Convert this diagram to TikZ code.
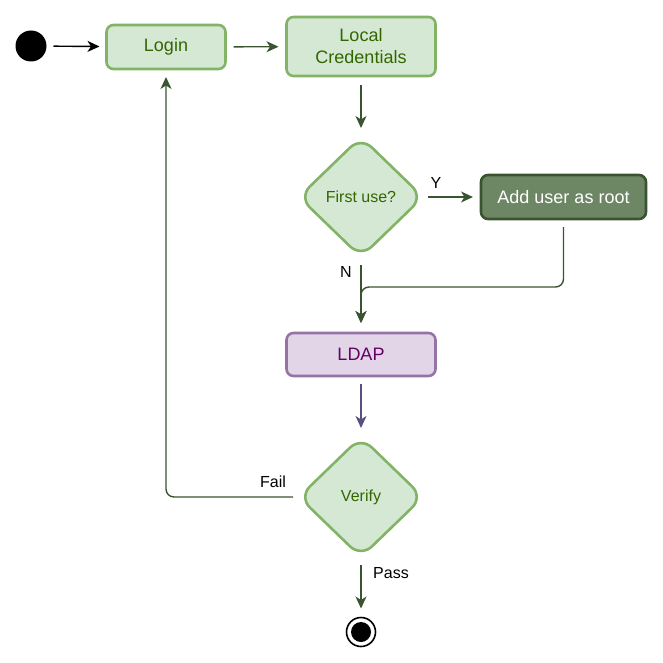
\documentclass[tikz,border=0pt]{standalone}
\usepackage{fontspec}
\setmainfont{Liberation Sans}
\usetikzlibrary{shapes.geometric,arrows.meta}
\definecolor{gfill}{HTML}{D5E8D4}
\definecolor{gline}{HTML}{82B366}
\definecolor{gtext}{HTML}{336600}
\definecolor{dfill}{HTML}{6D8764}
\definecolor{dline}{HTML}{3A5431}
\definecolor{pfill}{HTML}{E1D5E7}
\definecolor{pline}{HTML}{9673A6}
\definecolor{ptext}{HTML}{660066}
\definecolor{parrow}{HTML}{56517E}
\begin{document}
\begin{tikzpicture}[x=1pt,y=-1pt,
 box/.style={draw=gline, fill=gfill, text=gtext, line width=2.6pt, rounded corners=7pt, inner sep=0pt, outer sep=0pt, font=\fontsize{18}{22}\selectfont, align=center},
 decision/.style={diamond, draw=gline, fill=gfill, text=gtext, line width=2.6pt, rounded corners=15pt, inner sep=0pt, outer sep=0pt, minimum width=124pt, minimum height=120pt, font=\fontsize{16}{19}\selectfont},
 conn/.style={draw=dline, line width=1.4pt, -{Stealth[length=12pt,width=11pt,inset=3.5pt]}},
 lbl/.style={font=\fontsize{16}{19}\selectfont, inner sep=0pt, text=black}
]
\useasboundingbox (0,0) rectangle (663,663);
% nodes
\node[circle, fill=black, minimum size=31pt, inner sep=0pt, outer sep=0pt] (start) at (31,46) {};
\node[box, minimum width=119pt, minimum height=44pt] (login) at (166,47) {Login};
\node[box, minimum width=149pt, minimum height=59pt] (cred) at (361,46.5) {Local\\Credentials};
\node[decision] (first) at (361,197) {First use?};
\node[box, draw=dline, fill=dfill, text=white, minimum width=165pt, minimum height=44pt] (adduser) at (563.5,197) {Add user as root};
\node[box, draw=pline, fill=pfill, text=ptext, minimum width=149pt, minimum height=43pt] (ldap) at (361,354.5) {LDAP};
\node[decision] (verify) at (361,497) {Verify};
\node[circle, draw=black, fill=white, line width=1.6pt, minimum size=29pt, inner sep=0pt, outer sep=0pt] (end) at (361,632) {};
\node[circle, fill=black, minimum size=20pt, inner sep=0pt] (endin) at (end.center) {};
\coordinate (m) at (361,287);
% connectors
\draw[conn, draw=black, shorten <=7pt, shorten >=7pt] (start) -- (login);
\draw[conn, shorten <=8pt, shorten >=8pt] (login) -- (cred);
\draw[conn, shorten <=9pt, shorten >=9pt] (cred) -- (first);
\draw[conn, shorten <=5pt, shorten >=8pt] (first) -- (adduser);
\draw[conn, shorten <=8pt, shorten >=10pt] (first) -- (ldap);
\draw[conn, rounded corners=8pt, shorten <=8pt, shorten >=10pt] (adduser.south) |- (m) -- (ldap.north);
\draw[conn, draw=parrow, shorten <=8pt, shorten >=9pt] (ldap) -- (verify);
\draw[conn, rounded corners=8pt, shorten <=6pt, shorten >=8pt] (verify.west) -| (login.south);
\draw[conn, shorten <=8pt, shorten >=9pt] (verify) -- (end);
% labels
\node[lbl] (ly) at (436,183) {Y};
\node[lbl] (ln) at (346,272) {N};
\node[lbl] (lfail) at (273,482) {Fail};
\node[lbl] (lpass) at (391,573) {Pass};
\end{tikzpicture}
\end{document}
